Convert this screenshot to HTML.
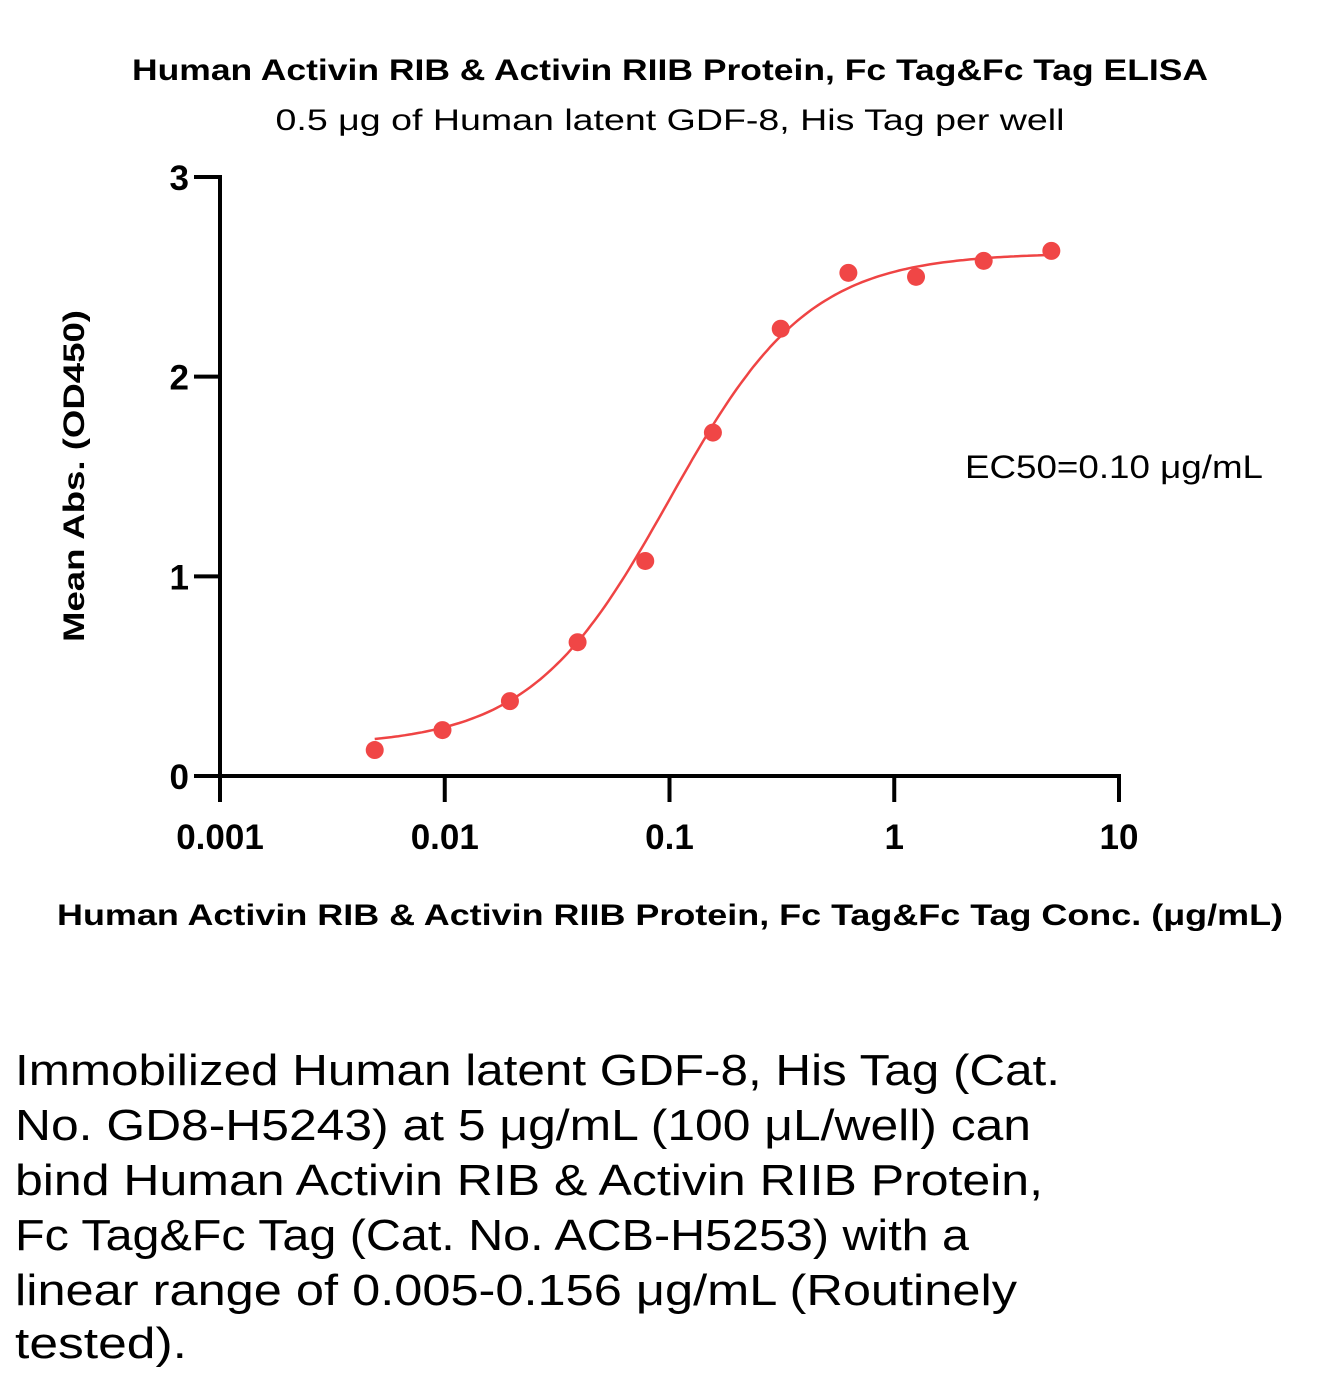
<!DOCTYPE html>
<html><head><meta charset="utf-8"><style>
body{margin:0;background:#fff}
svg{display:block;font-family:"Liberation Sans",sans-serif}
</style></head><body>
<svg id="chart" width="1328" height="1382" viewBox="0 0 1328 1382">
<text x="670" y="80" text-anchor="middle" font-size="30" font-weight="bold" textLength="1076" lengthAdjust="spacingAndGlyphs">Human Activin RIB &amp; Activin RIIB Protein, Fc Tag&amp;Fc Tag ELISA</text>
<text x="670" y="130" text-anchor="middle" font-size="30" textLength="789" lengthAdjust="spacingAndGlyphs">0.5 μg of Human latent GDF-8, His Tag per well</text>
<text transform="translate(84,476) rotate(-90)" text-anchor="middle" font-size="30" font-weight="bold" textLength="332" lengthAdjust="spacingAndGlyphs">Mean Abs. (OD450)</text>
<text x="670" y="925" text-anchor="middle" font-size="30" font-weight="bold" textLength="1226" lengthAdjust="spacingAndGlyphs">Human Activin RIB &amp; Activin RIIB Protein, Fc Tag&amp;Fc Tag Conc. (μg/mL)</text>
<text x="965" y="478" font-size="32" textLength="298" lengthAdjust="spacingAndGlyphs">EC50=0.10 μg/mL</text>
<g id="axes"></g>
<g id="plot"></g>
<g font-size="44">
<text x="15" y="1085" textLength="1045" lengthAdjust="spacingAndGlyphs">Immobilized Human latent GDF-8, His Tag (Cat.</text>
<text x="15" y="1140" textLength="1016" lengthAdjust="spacingAndGlyphs">No. GD8-H5243) at 5 μg/mL (100 μL/well) can</text>
<text x="15" y="1195" textLength="1028" lengthAdjust="spacingAndGlyphs">bind Human Activin RIB &amp; Activin RIIB Protein,</text>
<text x="15" y="1250" textLength="954" lengthAdjust="spacingAndGlyphs">Fc Tag&amp;Fc Tag (Cat. No. ACB-H5253) with a</text>
<text x="15" y="1305" textLength="1002" lengthAdjust="spacingAndGlyphs">linear range of 0.005-0.156 μg/mL (Routinely</text>
<text x="15" y="1358" textLength="172" lengthAdjust="spacingAndGlyphs">tested).</text>
</g>
</svg>
<script>
const concs=[0.00488,0.00977,0.0195,0.039,0.078,0.156,0.3125,0.625,1.25,2.5,5];
const absVals=[0.13,0.23,0.375,0.67,1.077,1.72,2.24,2.52,2.50,2.58,2.63];
const xTicks=[0.001,0.01,0.1,1,10];
const xTickLabels=["0.001","0.01","0.1","1","10"];
const yTicks=[0,1,2,3];
const fitParams=[0.15,2.62,0.10,1.4]; // bottom, top, EC50, hill
const NS="http://www.w3.org/2000/svg";
const X0=220,X1=1119,Y0=776,Y1=177;
const xs=v=>X0+(Math.log10(v)+3)/4*(X1-X0);
const ys=v=>Y0-v/3*(Y0-Y1);
function mk(tag,attrs,parent){const e=document.createElementNS(NS,tag);for(const k in attrs)e.setAttribute(k,attrs[k]);parent.appendChild(e);return e;}
const ax=document.getElementById('axes'),pl=document.getElementById('plot');
let e=mk('line',{x1:X0,y1:Y0,x2:X0,y2:Y1-2,stroke:'#000','stroke-width':4},ax);


e=mk('line',{x1:X0-2,y1:Y0,x2:X1+2,y2:Y0,stroke:'#000','stroke-width':4},ax);


yTicks.forEach(t=>{
 const y=ys(t);
 let l=mk('line',{x1:X0-26,y1:y,x2:X0,y2:y,stroke:'#000','stroke-width':4},ax);
 
 
 let tx=mk('text',{x:189,y:y+13,'text-anchor':'end','font-size':35,'font-weight':'bold'},ax);
 tx.textContent=String(t);
 
 
});
xTicks.forEach((t,i)=>{
 const x=xs(t);
 let l=mk('line',{x1:x,y1:Y0,x2:x,y2:Y0+26,stroke:'#000','stroke-width':4},ax);
 
 
 let tx=mk('text',{x:x,y:849,'text-anchor':'middle','font-size':35,'font-weight':'bold'},ax);
 tx.textContent=xTickLabels[i];
 
 
});
const [b,tp,ec,h]=fitParams;
const f=x=>b+(tp-b)/(1+Math.pow(ec/x,h));
let d='';
const lo=Math.log10(concs[0]),hi=Math.log10(concs[concs.length-1]);
for(let i=0;i<=200;i++){const lx=lo+(hi-lo)*i/200,x=Math.pow(10,lx);d+=(i?'L':'M')+xs(x).toFixed(1)+','+ys(f(x)).toFixed(1);}
const c=mk('path',{d:d,fill:'none',stroke:'#ef4444','stroke-width':2.5},pl);


concs.forEach((v,i)=>{
 const p=mk('circle',{cx:xs(v),cy:ys(absVals[i]),r:9,fill:'#f04646'},pl);
 
 
});
</script>
</body></html>
